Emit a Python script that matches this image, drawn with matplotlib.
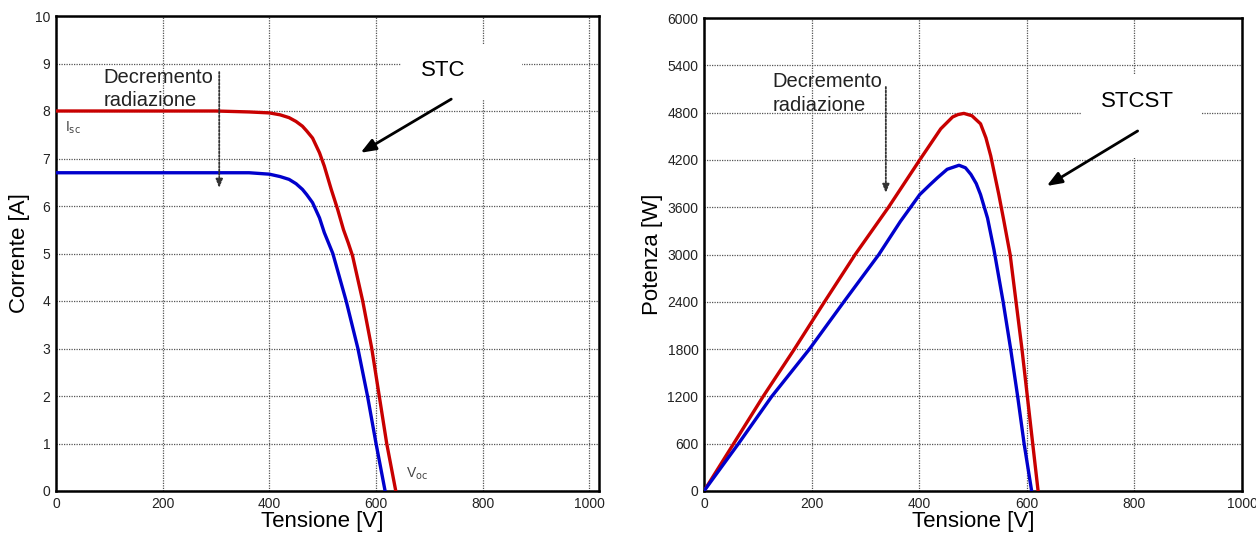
import matplotlib
matplotlib.use('Agg')
import matplotlib.pyplot as plt
from matplotlib.patches import Rectangle

plt.rcParams['font.family'] = ['Liberation Sans', 'DejaVu Sans']

# I-V curves (V in volt, I in ampere)
v_iv_stc = [0, 200, 300, 362, 400, 420, 437, 450, 462, 470, 481, 494, 503, 516, 528, 539, 548, 556, 575, 592, 606,
            620, 637]
i_iv_stc = [8.0, 8.0, 8.0, 7.98, 7.96, 7.92, 7.86, 7.78, 7.68, 7.58, 7.43, 7.12, 6.84, 6.35, 5.93, 5.5, 5.22, 4.95,
            4.0, 3.0, 2.0, 1.0, 0.0]
v_iv_low = [0, 200, 300, 362, 400, 420, 437, 450, 462, 470, 481, 494, 503, 519, 544, 566, 584, 600, 617]
i_iv_low = [6.7, 6.7, 6.7, 6.7, 6.67, 6.62, 6.56, 6.47, 6.35, 6.24, 6.07, 5.75, 5.44, 5.0, 4.0, 3.0, 2.0, 1.0, 0.0]

# P-V curves (V in volt, P in watt)
v_pv_stc = [0, 55, 110, 168, 224, 281, 343, 401, 440, 462, 472, 483, 498, 514, 524, 533, 548, 557, 569, 580, 591,
            601, 611, 621]
p_pv_stc = [0, 600, 1200, 1800, 2400, 3000, 3600, 4200, 4594, 4744, 4775, 4790, 4760, 4658, 4480, 4250, 3760, 3440,
            3000, 2400, 1800, 1200, 600, 0]
v_pv_low = [0, 64, 126, 196, 260, 325, 365, 401, 420, 434, 452, 474, 486, 496, 506, 514, 527, 539, 556, 570, 583,
            595, 609]
p_pv_low = [0, 600, 1200, 1800, 2400, 3000, 3419, 3760, 3885, 3974, 4081, 4132, 4100, 4017, 3900, 3760, 3462, 3060,
            2400, 1800, 1200, 600, 0]

x_ticks = [0, 200, 400, 600, 800, 1000]
i_ticks = list(range(0, 11))
p_ticks = list(range(0, 6001, 600))

red = '#c80000'
blue = '#0000cc'
grid_ls = (0, (1, 1))


def style(ax):
    ax.set_axisbelow(True)
    ax.grid(True, color='#555555', linestyle=grid_ls, linewidth=0.9)
    for s in ax.spines.values():
        s.set_color('black')
        s.set_linewidth(1.8)
    ax.tick_params(length=0, labelsize=10, pad=4, colors='#222222')


fig = plt.figure(figsize=(12.56, 5.37), dpi=100)

# ---- left: corrente / tensione
ax1 = fig.add_axes([56 / 1256, 1 - 491 / 537, 543 / 1256, 475 / 537])
style(ax1)
ax1.set_xlim(0, 1018)
ax1.set_ylim(0, 10)
ax1.set_xticks(x_ticks)
ax1.set_yticks(i_ticks)
ax1.plot(v_iv_stc, i_iv_stc, color=red, lw=2.4, zorder=3, solid_joinstyle='round')
ax1.plot(v_iv_low, i_iv_low, color=blue, lw=2.4, zorder=3, solid_joinstyle='round')
ax1.set_xlabel('Tensione [V]', fontsize=16, labelpad=0, x=500 / 1018)
ax1.set_ylabel('Corrente [A]', fontsize=16, labelpad=4)
ax1.add_patch(Rectangle((647, 8.25), 226, 1.16, facecolor='white', edgecolor='none', zorder=1))
ax1.text(726, 8.85, 'STC', fontsize=16, ha='center', va='center', zorder=4)
ax1.annotate('', xy=(571, 7.12), xytext=(741, 8.25),
             arrowprops=dict(arrowstyle='-|>,head_length=0.9,head_width=0.35', lw=2, color='black',
                             shrinkA=0, shrinkB=0), zorder=4)
ax1.text(89, 8.46, 'Decremento\nradiazione', fontsize=14.5, ha='left', va='center', linespacing=1.3,
         color='#222222')
ax1.annotate('', xy=(306, 6.38), xytext=(306, 8.82),
             arrowprops=dict(arrowstyle='-|>,head_length=0.5,head_width=0.2', lw=1.3, color='#333333',
                             linestyle=grid_ls, shrinkA=0, shrinkB=0))
ax1.text(17, 7.64, r'I$_{\rm sc}$', fontsize=10, color='#444444', ha='left', va='center')
ax1.text(657, 0.36, r'V$_{\rm oc}$', fontsize=10, color='#444444', ha='left', va='center')

# ---- right: potenza / tensione
ax2 = fig.add_axes([704 / 1256, 1 - 491 / 537, 538 / 1256, 473 / 537])
style(ax2)
ax2.set_xlim(0, 1000)
ax2.set_ylim(0, 6000)
ax2.set_xticks(x_ticks)
ax2.set_yticks(p_ticks)
ax2.plot(v_pv_stc, p_pv_stc, color=red, lw=2.4, zorder=3, solid_joinstyle='round')
ax2.plot(v_pv_low, p_pv_low, color=blue, lw=2.4, zorder=3, solid_joinstyle='round')
ax2.set_xlabel('Tensione [V]', fontsize=16, labelpad=0)
ax2.set_ylabel('Potenza [W]', fontsize=16, labelpad=3)
ax2.add_patch(Rectangle((702, 4230), 223, 1047, facecolor='white', edgecolor='none', zorder=1))
ax2.text(805, 4940, 'STCST', fontsize=16, ha='center', va='center', zorder=4)
ax2.annotate('', xy=(637, 3869), xytext=(806, 4567),
             arrowprops=dict(arrowstyle='-|>,head_length=0.9,head_width=0.35', lw=2, color='black',
                             shrinkA=0, shrinkB=0), zorder=4)
ax2.text(127, 5040, 'Decremento\nradiazione', fontsize=14.5, ha='left', va='center', linespacing=1.3,
         color='#222222')
ax2.annotate('', xy=(338, 3780), xytext=(338, 5125),
             arrowprops=dict(arrowstyle='-|>,head_length=0.5,head_width=0.2', lw=1.3, color='#333333',
                             linestyle=grid_ls, shrinkA=0, shrinkB=0))

fig.savefig('out.png', dpi=100)
